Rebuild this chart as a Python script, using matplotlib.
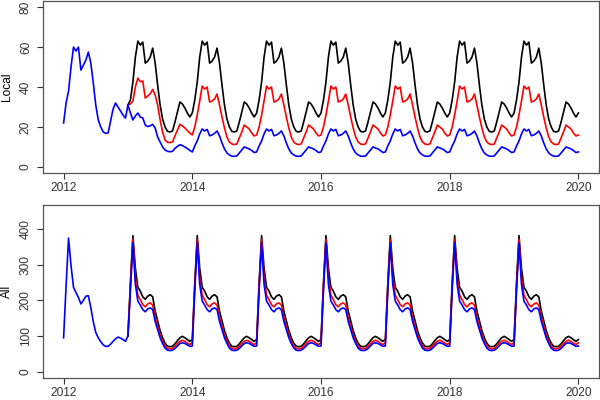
import numpy as np
import matplotlib
matplotlib.use("Agg")
import matplotlib.pyplot as plt

plt.rcParams["font.family"] = ["Liberation Sans", "DejaVu Sans"]

# ─── Data (26 points per year) ────────────────────────────────────────
STEPS = 26
YEARS_FC = 7

# observed series 2012.0 .. 2013.0
local_hist = [22, 32, 38, 50, 60, 58, 60, 48.5, 51, 53.5, 57.5, 52, 42, 31,
              23.6, 20, 17.5, 16.8, 17, 23, 29, 32, 30, 28, 26, 24.4, 31]
all_hist = [95, 240, 375, 298, 237, 222, 208, 190, 200, 212, 213, 180, 140,
            110, 95, 84, 75, 71, 71, 77, 85, 92, 97, 94, 90, 85, 100]

# forecast seasonal profiles (one year, starting at Jan 1)
local_black = [27, 33.5, 42.5, 55, 63, 61, 62.5, 52, 53, 55, 59.5, 52, 41, 31,
               24, 20, 17.8, 17.5, 18, 22.5, 27.5, 32.5, 31.5, 29.5, 27, 25]
local_red = [16, 20, 26, 33, 40.5, 39, 40, 32.5, 33, 34, 36.5, 31, 25, 19.5,
             15, 12.5, 11.5, 11.2, 11.5, 14.5, 17.5, 21, 20, 19, 17, 15.5]
local_blue = [7.5, 10.5, 13, 16.5, 19, 18, 18.8, 15.6, 16, 16.8, 18, 15.5, 12,
              9, 7, 6, 5.4, 5.3, 5.5, 7, 8.5, 10, 9.5, 9, 8.2, 7.2]
# first forecast year (2013) differs for red and blue
local_red_2013 = [31, 31.5, 33, 40, 44.5, 42.7, 43, 34.5, 35.5, 36.7, 38.8, 36,
                  31, 23.6, 17.5, 13.5, 12.3, 12.2, 12.5, 15.6, 18.5, 21.3, 20.5,
                  19.5, 18.2, 17]
local_blue_2013 = [31, 27, 23.5, 25.5, 27, 25, 24.5, 21, 20.2, 20.6, 21.3, 19.5,
                   15, 12.5, 10, 8.5, 7.8, 7.6, 7.8, 9.3, 10.3, 11.1, 10.7, 10,
                   9.2, 8.3]

all_black = [90, 250, 382, 290, 237, 226, 210, 203, 212, 216, 210, 170, 142,
             115, 95, 80, 71, 70, 71, 78, 87, 95, 99, 95, 90, 85]
all_red = [81, 240, 372, 265, 215, 202, 188, 182, 190, 193, 187, 152, 127,
           103, 85, 72, 65, 64, 65, 71, 79, 85, 88, 85, 80, 76]
all_blue = [72, 228, 362, 245, 198, 187, 174, 168, 176, 179, 174, 141, 118,
            95, 79, 66, 60, 59, 60, 65, 72, 79, 81, 79, 75, 71]


def forecast(cycle, first=None, start=None):
    first = cycle if first is None else first
    vals = list(first) + list(cycle) * (YEARS_FC - 1) + [cycle[0]]
    if start is not None:
        vals[0] = start
    return np.array(vals)


t_hist = 2012 + np.arange(len(local_hist)) / STEPS
t_fc = 2013 + np.arange(YEARS_FC * STEPS + 1) / STEPS

panels = [
    ("Local", local_hist, [(local_black, None), (local_red, local_red_2013),
                           (local_blue, local_blue_2013)], (0, 80), [0, 20, 40, 60, 80]),
    ("All", all_hist, [(all_black, None), (all_red, None), (all_blue, None)],
     (0, 450), [0, 100, 200, 300, 400]),
]
colors = ["black", "red", "blue"]

fig = plt.figure(figsize=(6, 4), dpi=100)
boxes = [[43 / 600, 1 - 173.3 / 400, 556 / 600, 172.5 / 400],
         [43 / 600, 1 - 378 / 400, 556 / 600, 173 / 400]]

for box, (label, hist, fcs, ylim, yticks) in zip(boxes, panels):
    ax = fig.add_axes(box)
    for (cyc, first), col in zip(fcs, colors):
        ax.plot(t_fc, forecast(cyc, first, hist[-1]), color=col, lw=1.2)
    ax.plot(t_hist, hist, color="blue", lw=1.2)

    pad_x = 0.04 * 8
    ax.set_xlim(2012 - pad_x, 2020 + pad_x)
    pad_y = 0.04 * (ylim[1] - ylim[0])
    ax.set_ylim(ylim[0] - pad_y, ylim[1] + pad_y)
    ax.set_xticks([2012, 2014, 2016, 2018, 2020])
    ax.set_yticks(yticks)
    ax.set_yticklabels([str(v) for v in yticks], rotation=90, va="center")
    ax.tick_params(direction="out", length=4, width=0.8, labelsize=8.6,
                   colors="#333333")
    ax.tick_params(axis="x", pad=2.5)
    ax.tick_params(axis="y", pad=4)
    for sp in ax.spines.values():
        sp.set_color("#555555")
        sp.set_linewidth(0.9)
    ax.set_ylabel(label, fontsize=8.6)
    ax.yaxis.set_label_coords(-0.054, 0.5)

fig.savefig("out.png", dpi=100)
